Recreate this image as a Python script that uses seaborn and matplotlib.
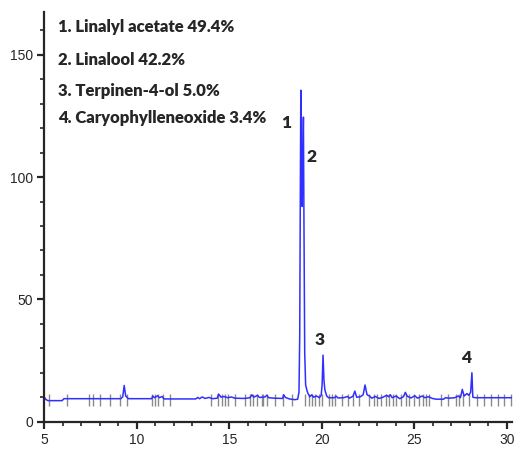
import numpy as np
import pandas as pd
import matplotlib
matplotlib.use("Agg")
import matplotlib.pyplot as plt
import seaborn as sns
from matplotlib.ticker import MultipleLocator

# chromatogram trace (retention time in min, abundance)
trace_x = [5.0, 5.1, 5.2, 5.96, 6.06, 9.14, 9.24, 9.32, 9.4, 9.55,
           10.81, 10.86, 10.96, 11.12, 11.22, 11.37, 11.47, 13.19, 13.29, 13.39,
           13.54, 13.69, 13.9, 14.1, 14.35, 14.42, 14.56, 14.71, 14.91, 15.11,
           15.31, 15.82, 16.12, 16.22, 16.33, 16.53, 16.63, 16.93, 17.03, 17.13,
           17.44, 17.89, 17.94, 18.04, 18.25, 18.55, 18.7, 18.77, 18.81, 18.84,
           18.87, 18.9, 18.94, 18.98, 19.01, 19.04, 19.08, 19.13, 19.21, 19.26,
           19.36, 19.46, 19.56, 19.72, 19.87, 19.97, 20.02, 20.07, 20.12, 20.17,
           20.27, 20.37, 20.68, 20.78, 20.88, 21.18, 21.39, 21.49, 21.69, 21.79,
           21.89, 22.09, 22.24, 22.34, 22.45, 22.6, 22.7, 22.9, 23.1, 23.31,
           23.51, 23.61, 23.71, 23.81, 24.02, 24.22, 24.42, 24.52, 24.62, 24.83,
           25.03, 25.18, 25.43, 25.58, 25.78, 25.98, 26.18, 26.59, 26.69, 26.89,
           27.19, 27.39, 27.5, 27.6, 27.7, 27.85, 27.95, 28.05, 28.12, 28.17,
           28.3, 30.27]
trace_y = [10.0, 9.0, 8.6, 8.6, 9.4, 9.4, 10.2, 14.8, 10.5, 9.4,
           9.4, 10.5, 9.8, 10.6, 9.8, 10.3, 9.3, 9.3, 9.9, 9.4,
           10.1, 9.5, 9.9, 9.4, 9.6, 11.3, 10.0, 10.3, 9.8, 10.1,
           9.6, 9.5, 9.8, 11.0, 10.0, 10.8, 9.9, 10.1, 10.8, 9.8,
           9.6, 9.5, 11.0, 9.9, 9.3, 9.0, 9.2, 12.0, 35.0, 90.0,
           135.5, 95.0, 88.0, 110.0, 124.5, 80.0, 28.0, 15.0, 12.5, 11.5,
           10.2, 11.0, 10.0, 10.5, 9.8, 10.8, 15.0, 27.2, 17.0, 13.0,
           10.5, 9.8, 9.8, 10.4, 9.7, 9.8, 10.3, 9.6, 10.4, 12.5,
           10.0, 10.2, 11.0, 15.0, 11.0, 10.4, 9.6, 10.3, 9.5, 10.0,
           10.8, 10.2, 11.0, 9.8, 10.5, 9.4, 10.2, 12.0, 10.4, 9.7,
           10.6, 9.6, 10.5, 9.8, 10.2, 9.5, 9.2, 9.2, 9.8, 9.6,
           9.8, 10.5, 9.8, 13.2, 10.5, 11.5, 10.8, 12.0, 20.0, 10.0,
           9.8, 9.8]

# detected-peak marks along the baseline
mark_x = [5.27, 6.21, 7.44, 7.65, 8.02, 8.55, 9.1, 9.49, 10.8, 10.99,
          11.17, 11.44, 11.8, 14.01, 14.4, 14.59, 14.77, 14.95, 15.31, 15.85,
          16.12, 16.3, 16.49, 16.76, 16.84, 17.03, 17.48, 17.93, 18.39, 19.11,
          19.29, 19.47, 19.66, 19.84, 20.02, 20.39, 20.57, 20.74, 21.1, 21.4,
          21.7, 22.0, 22.57, 22.83, 23.01, 23.2, 23.47, 23.64, 23.83, 24.01,
          24.28, 24.56, 24.74, 25.0, 25.27, 25.45, 25.64, 25.81, 26.45, 26.81,
          27.26, 27.44, 27.62, 27.97, 28.42, 28.79, 29.14, 29.51, 29.87, 30.22]
mark_level = 8.8

peak_labels = ["1", "2", "3", "4"]
peak_label_x = [18.06, 19.45, 19.87, 27.83]
peak_label_y = [121.9, 108.3, 33.4, 25.9]

legend_lines = ["1. Linalyl acetate 49.4%", "2. Linalool 42.2%",
                "3. Terpinen-4-ol 5.0%", "4. Caryophylleneoxide 3.4%"]
legend_y = [161.4, 147.8, 135.3, 124.0]

sns.set_style("ticks")
plt.rcParams['font.family'] = ['Liberation Sans', 'DejaVu Sans']
bold_family = ["Lato", "DejaVu Sans"]

fig = plt.figure(figsize=(5.17, 4.51), dpi=100)
ax = fig.add_axes([0.0857, 0.065, 0.9897 - 0.0857, 0.973 - 0.065])

df = pd.DataFrame({"t": trace_x, "a": trace_y})
ax.plot(mark_x, [mark_level] * len(mark_x), ls="none", marker="|",
        ms=8, mew=1.0, color="#8a8a8a", zorder=1)
sns.lineplot(data=df, x="t", y="a", sort=False, estimator=None,
             color="#2f2fff", lw=1.1, ax=ax, zorder=2)

for lab, lx, ly in zip(peak_labels, peak_label_x, peak_label_y):
    ax.text(lx, ly, lab, ha="center", va="center", fontsize=12.5,
            fontweight="heavy", family=bold_family)

for line, ly in zip(legend_lines, legend_y):
    ax.text(5.74, ly, line, ha="left", va="center", fontsize=12,
            fontweight="heavy", family=bold_family)

ax.set_xlim(5, 30.27)
ax.set_ylim(0, 167.4)
ax.set_xticks([5, 10, 15, 20, 25, 30])
ax.set_yticks([0, 50, 100, 150])
ax.xaxis.set_minor_locator(MultipleLocator(1))
ax.yaxis.set_minor_locator(MultipleLocator(10))
ax.tick_params(which="major", length=5, width=1.6, labelsize=10, pad=3)
ax.tick_params(which="minor", length=3, width=1.2)
ax.set_xlabel("")
ax.set_ylabel("")
sns.despine(ax=ax)
for s in ["left", "bottom"]:
    ax.spines[s].set_linewidth(1.6)

fig.savefig("out.png", dpi=100)
